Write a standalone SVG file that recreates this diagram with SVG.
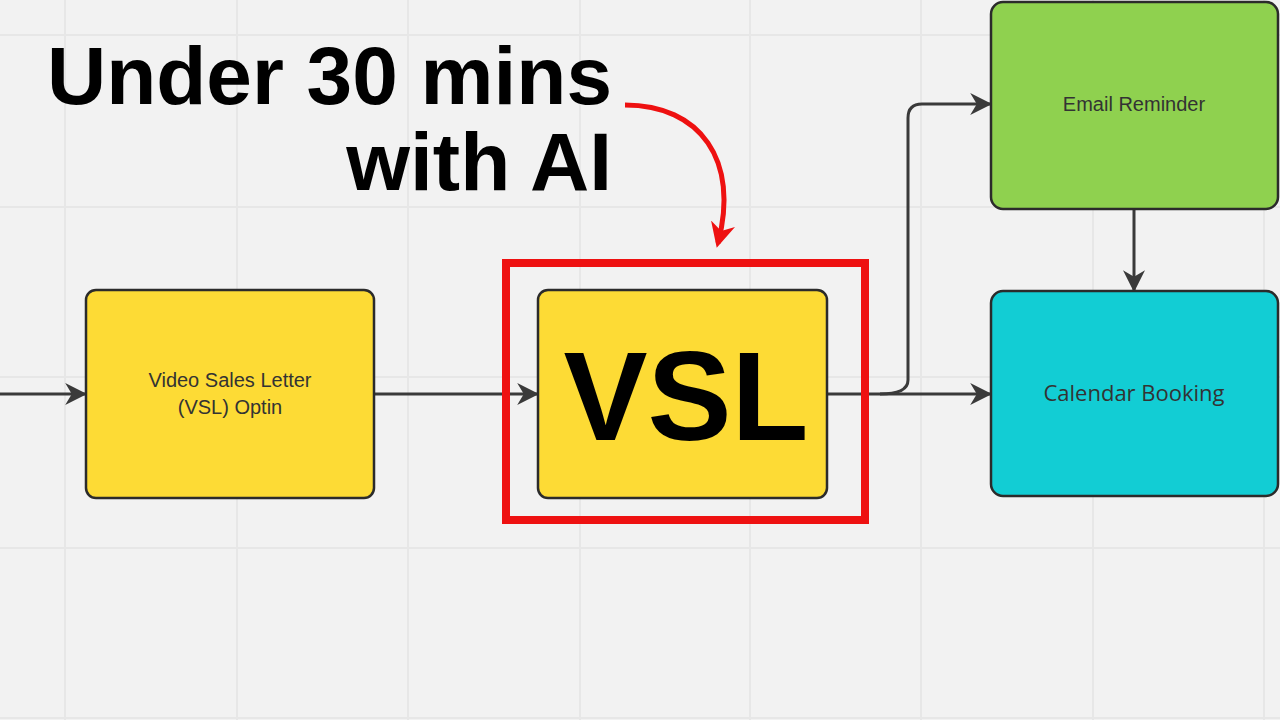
<svg xmlns="http://www.w3.org/2000/svg" width="1280" height="720" viewBox="0 0 1280 720">
<style>
.grid{stroke:#e7e7e7;stroke-width:2}
.node{stroke:#2b2b2b;stroke-width:2.5}
.lbl{font-family:"Liberation Sans",Arial,sans-serif;font-size:20px;fill:#333;text-anchor:middle}
.conn{stroke:#3a3a3a;stroke-width:3;fill:none;marker-end:url(#ah)}
.big{font-family:"Liberation Sans",Arial,sans-serif;font-weight:bold;fill:#000}
</style>
<defs>
<marker id="ah" viewBox="0 0 10 10" refX="9" refY="5" markerWidth="22" markerHeight="22" markerUnits="userSpaceOnUse" orient="auto"><path d="M0,0 L10,5 L0,10 L3,5 Z" fill="#3a3a3a"/></marker>
<marker id="ahr" viewBox="0 0 10 10" refX="8" refY="5" markerWidth="5" markerHeight="5" orient="auto"><path d="M0,0 L10,5 L0,10 L3,5 Z" fill="#ee1111"/></marker>
</defs>
<rect width="1280" height="720" fill="#f2f2f2"/>
<g id="grid" class="grid">
<line x1="65" y1="0" x2="65" y2="720"/><line x1="237" y1="0" x2="237" y2="720"/><line x1="408" y1="0" x2="408" y2="720"/><line x1="580" y1="0" x2="580" y2="720"/><line x1="750" y1="0" x2="750" y2="720"/><line x1="921" y1="0" x2="921" y2="720"/><line x1="1093" y1="0" x2="1093" y2="720"/><line x1="1264" y1="0" x2="1264" y2="720"/>
<line x1="0" y1="35" x2="1280" y2="35"/><line x1="0" y1="207" x2="1280" y2="207"/><line x1="0" y1="377" x2="1280" y2="377"/><line x1="0" y1="548" x2="1280" y2="548"/><line x1="0" y1="718" x2="1280" y2="718"/>
</g>
<g id="connectors">
<path class="conn" d="M0,394 H85"/>
<path class="conn" d="M374,394 H537"/>
<path class="conn" d="M827,394 H990"/>
<path class="conn" d="M880,394 Q908,394 908,380 V118 Q908,104 922,104 H990"/>
<path class="conn" d="M1134,209 V290"/>
<path d="M625,105 C700,105 740,160 718,243" stroke="#ee1111" stroke-width="5" fill="none" style="marker-end:url(#ahr)"/>
</g>
<g id="optin"><rect class="node" x="86" y="290" width="288" height="208" rx="10" fill="#fddb35"/>
<text class="lbl" x="230" y="387">Video Sales Letter</text><text class="lbl" x="230" y="414">(VSL) Optin</text></g>
<g id="vsl"><rect class="node" x="538" y="290" width="289" height="208" rx="10" fill="#fddb35"/>
<text class="big" x="686" y="440" font-size="126" text-anchor="middle">VSL</text></g>
<rect x="506" y="263" width="359" height="257" fill="none" stroke="#ee1111" stroke-width="8"/>
<g id="email"><rect class="node" x="991" y="2" width="287" height="207" rx="12" fill="#8fd14f"/>
<text class="lbl" x="1134" y="111">Email Reminder</text></g>
<g id="calendar"><rect class="node" x="991" y="291" width="287" height="205" rx="12" fill="#12cdd4"/>
<text class="lbl" x="1134" y="401" style="font-family:'Open Sans',sans-serif;font-size:22px">Calendar Booking</text></g>
<g id="title">
<text class="big" x="612" y="104" font-size="82" text-anchor="end">Under 30 mins</text>
<text class="big" x="612" y="190" font-size="82" text-anchor="end">with AI</text>
</g>
</svg>
